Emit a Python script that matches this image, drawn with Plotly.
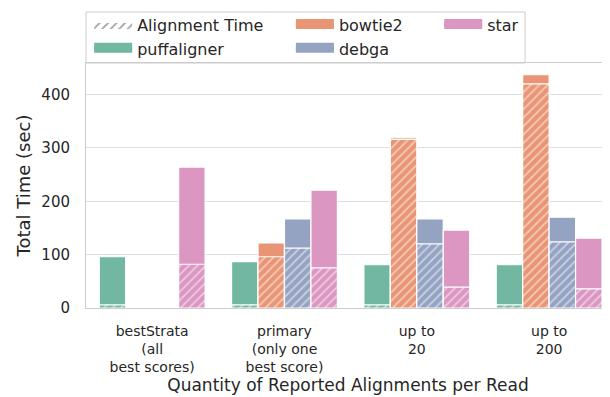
import plotly.graph_objects as go

categories = ["bestStrata<br>(all<br>best scores)", "primary<br>(only one<br>best score)", "up to<br>20", "up to<br>200"]
aligners = ["puffaligner", "bowtie2", "debga", "star"]
colors = {"puffaligner": "#71b7a1", "bowtie2": "#e99575", "debga": "#95a3c3", "star": "#db96c1"}

total_time = {
    "puffaligner": [96, 87, 81, 81],
    "bowtie2": [None, 122, 319, 437],
    "debga": [None, 167, 167, 170],
    "star": [264, 221, 146, 131],
}
alignment_time = {
    "puffaligner": [6, 6, 6, 6],
    "bowtie2": [None, 96, 316, 420],
    "debga": [None, 112, 120, 124],
    "star": [82, 75, 39, 36],
}

fig = go.Figure()
for a in aligners:
    fig.add_trace(go.Bar(
        x=categories, y=total_time[a], name=a, offsetgroup=a,
        marker=dict(color=colors[a], line=dict(color="white", width=1.2)),
        showlegend=False,
    ))
    fig.add_trace(go.Bar(
        x=categories, y=alignment_time[a], name=a + " alignment", offsetgroup=a,
        marker=dict(color=colors[a], line=dict(color="white", width=1.2),
                    pattern=dict(shape="/", fgcolor="white", bgcolor=colors[a], size=6, solidity=0.3)),
        showlegend=False,
    ))

# legend entries (three columns, column-major like matplotlib ncol=3)
def leg_entry(name, legend, color=None, hatch=False):
    if hatch:
        return go.Scatter(x=[None], y=[None], mode="lines", name=name, legend=legend,
                          fill="toself", fillcolor="white", line=dict(width=0, color="white"),
                          fillpattern=dict(shape="/", fgcolor="#444444", bgcolor="white", size=6, solidity=0.3),
                          legendgroup=name)
    return go.Scatter(x=[None], y=[None], mode="lines", name=name, legend=legend,
                      fill="toself", fillcolor=color, line=dict(width=8, color=color),
                      legendgroup=name)

fig.add_trace(leg_entry("Alignment Time", "legend", hatch=True))
fig.add_trace(leg_entry("puffaligner", "legend", colors["puffaligner"]))
fig.add_trace(leg_entry("bowtie2", "legend2", colors["bowtie2"]))
fig.add_trace(leg_entry("debga", "legend2", colors["debga"]))
fig.add_trace(leg_entry("star", "legend3", colors["star"]))

leg_common = dict(font=dict(family="DejaVu Sans", size=16, color="#262626"), bgcolor="rgba(0,0,0,0)",
                  yanchor="top", xanchor="left", tracegroupgap=0, itemwidth=38)
# page body has an 8px margin, so the figure is 8px smaller and margins shifted
fig.update_layout(
    width=602, height=389,
    margin=dict(l=78, r=0, t=55, b=89, autoexpand=False),
    plot_bgcolor="white", paper_bgcolor="white",
    barmode="group", bargap=0.2, bargroupgap=0,
    font=dict(family="DejaVu Sans", color="#262626"),
    legend=dict(x=0.006, y=1.224, **leg_common),
    legend2=dict(x=0.391, y=1.224, **leg_common),
    legend3=dict(x=0.674, y=1.224, **leg_common),
    shapes=[dict(type="rect", xref="paper", yref="paper", x0=0, x1=0.838, y0=1.0, y1=1.208,
                 line=dict(color="#cccccc", width=1), fillcolor="rgba(0,0,0,0)", layer="below")],
)
fig.update_xaxes(
    range=[-0.5, 3.46], showgrid=False, showline=True, linecolor="#cccccc", mirror=True,
    ticks="", tickfont=dict(size=14, color="#262626"), ticklabelstandoff=10,
    title=dict(text="Quantity of Reported Alignments per Read", font=dict(size=17, color="#262626"), standoff=0),
)
fig.update_yaxes(
    range=[0, 459], tickvals=[0, 100, 200, 300, 400], showgrid=True, gridcolor="#dedede", gridwidth=1,
    showline=True, linecolor="#cccccc", zeroline=False, ticks="",
    tickfont=dict(size=15, color="#262626"), ticklabelstandoff=12,
    title=dict(text="Total Time (sec)", font=dict(size=18, color="#262626"), standoff=6),
)
fig.write_html("out.html")
